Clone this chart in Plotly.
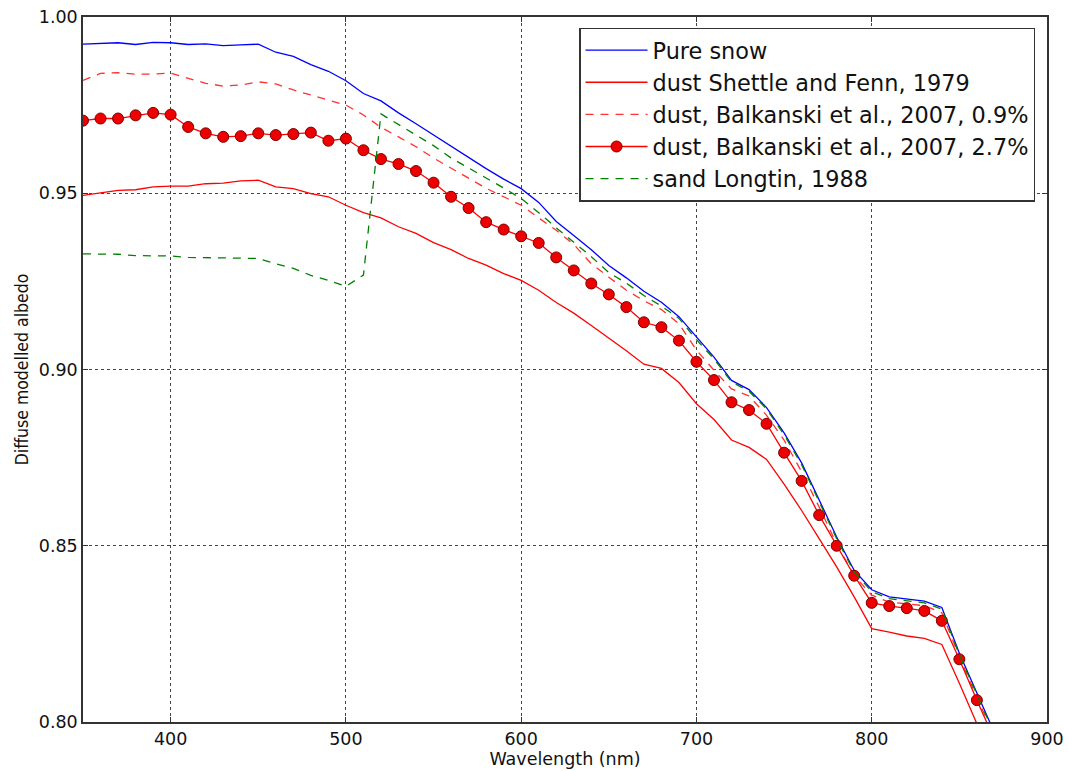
import plotly.graph_objects as go

wavelength = list(range(350, 880, 10))

pure_snow = [0.9923, 0.9925, 0.9927, 0.9922, 0.9928, 0.9927, 0.9922, 0.9924, 0.9919, 0.9921,
             0.9923, 0.9900, 0.9888, 0.9865, 0.9846, 0.9819, 0.9783, 0.9762, 0.9728, 0.9697,
             0.9665, 0.9633, 0.9600, 0.9570, 0.9540, 0.9513, 0.9474, 0.9420, 0.9380, 0.9340,
             0.9295, 0.9260, 0.9222, 0.9191, 0.9150, 0.9092, 0.9035, 0.8969, 0.8943, 0.8892,
             0.8820, 0.8735, 0.8628, 0.8525, 0.8430, 0.8375, 0.8355, 0.8350, 0.8343, 0.8325,
             0.8195, 0.8082, 0.7970]

dust_shettle = [0.9494, 0.9501, 0.9508, 0.9510, 0.9518, 0.9520, 0.9520, 0.9527, 0.9529, 0.9535,
                0.9537, 0.9518, 0.9513, 0.9499, 0.9490, 0.9466, 0.9445, 0.9430, 0.9405, 0.9386,
                0.9360, 0.9340, 0.9315, 0.9296, 0.9272, 0.9253, 0.9225, 0.9190, 0.9160, 0.9125,
                0.9090, 0.9053, 0.9015, 0.9003, 0.8963, 0.8903, 0.8858, 0.8800, 0.8779, 0.8745,
                0.8675, 0.8600, 0.8520, 0.8440, 0.8355, 0.8265, 0.8255, 0.8244, 0.8237, 0.8220,
                0.8110, 0.7995, 0.7890]

dust_balk_09 = [0.9820, 0.9840, 0.9842, 0.9838, 0.9838, 0.9841, 0.9826, 0.9812, 0.9804, 0.9807,
                0.9816, 0.9810, 0.9793, 0.9778, 0.9764, 0.9750, 0.9722, 0.9687, 0.9660, 0.9632,
                0.9600, 0.9572, 0.9543, 0.9514, 0.9490, 0.9466, 0.9430, 0.9395, 0.9355, 0.9300,
                0.9262, 0.9225, 0.9195, 0.9170, 0.9130, 0.9055, 0.8998, 0.8945, 0.8925, 0.8870,
                0.8800, 0.8710, 0.8610, 0.8505, 0.8415, 0.8360, 0.8340, 0.8335, 0.8330, 0.8310,
                0.8185, 0.8070, 0.7960]

dust_balk_27 = [0.9706, 0.9712, 0.9712, 0.9721, 0.9728, 0.9723, 0.9688, 0.9670, 0.9660, 0.9662,
                0.9670, 0.9665, 0.9668, 0.9672, 0.9649, 0.9655, 0.9622, 0.9597, 0.9583, 0.9563,
                0.9530, 0.9490, 0.9458, 0.9418, 0.9397, 0.9378, 0.9359, 0.9318, 0.9281, 0.9244,
                0.9213, 0.9177, 0.9134, 0.9120, 0.9082, 0.9022, 0.8970, 0.8907, 0.8885, 0.8846,
                0.8764, 0.8684, 0.8587, 0.8500, 0.8415, 0.8338, 0.8329, 0.8323, 0.8315, 0.8287,
                0.8178, 0.8062, 0.7950]

sand_longtin = [0.9328, 0.9328, 0.9327, 0.9323, 0.9322, 0.9322, 0.9318, 0.9317, 0.9315, 0.9314,
                0.9315, 0.9300, 0.9287, 0.9267, 0.9253, 0.9236, 0.9268, 0.9725, 0.9695, 0.9665,
                0.9635, 0.9600, 0.9572, 0.9543, 0.9515, 0.9485, 0.9445, 0.9402, 0.9362, 0.9320,
                0.9275, 0.9245, 0.9210, 0.9180, 0.9145, 0.9085, 0.9030, 0.8965, 0.8938, 0.8888,
                0.8815, 0.8730, 0.8625, 0.8520, 0.8425, 0.8370, 0.8350, 0.8345, 0.8338, 0.8320,
                0.8190, 0.8078, 0.7965]

x_ticks = [400, 500, 600, 700, 800, 900]
y_ticks = [0.80, 0.85, 0.90, 0.95, 1.00]

fig = go.Figure()
fig.add_trace(go.Scatter(x=wavelength, y=pure_snow, mode="lines", name="Pure snow",
                         line=dict(color="#0000ff", width=1.3)))
fig.add_trace(go.Scatter(x=wavelength, y=dust_shettle, mode="lines", name="dust Shettle and Fenn, 1979",
                         line=dict(color="#ff0000", width=1.3)))
fig.add_trace(go.Scatter(x=wavelength, y=dust_balk_09, mode="lines", name="dust, Balkanski et al., 2007, 0.9%",
                         line=dict(color="#ff3030", width=1.3, dash="8px,7px")))
fig.add_trace(go.Scatter(x=wavelength, y=dust_balk_27, mode="lines+markers",
                         name="dust, Balkanski et al., 2007, 2.7%",
                         line=dict(color="#ff0000", width=1.3),
                         marker=dict(color="#ee0000", size=11, line=dict(color="#7a0000", width=1))))
fig.add_trace(go.Scatter(x=wavelength, y=sand_longtin, mode="lines", name="sand Longtin, 1988",
                         line=dict(color="#008000", width=1.3, dash="8px,7px")))

axis_common = dict(showline=True, linecolor="#333333", linewidth=1.5, mirror="allticks",
                   ticks="inside", ticklen=5, tickcolor="#333333", automargin=False,
                   showgrid=True, gridcolor="#444444", gridwidth=1, griddash="dot",
                   zeroline=False, tickfont=dict(family="DejaVu Sans", size=17.5, color="#111111"))

fig.update_xaxes(range=[350, 900], tickvals=x_ticks, ticktext=[str(v) for v in x_ticks],
                 title=dict(text="Wavelength (nm)", font=dict(family="DejaVu Sans", size=17.5, color="#111111"),
                            standoff=2),
                 **axis_common)
fig.update_yaxes(range=[0.80, 1.00], tickvals=y_ticks, ticktext=["%.2f" % v for v in y_ticks],
                 title=dict(text="Diffuse modelled albedo",
                            font=dict(family="DejaVu Sans Condensed, DejaVu Sans", size=17.5, color="#111111"),
                            standoff=6),
                 **axis_common)

fig.update_layout(
    width=1068, height=771,
    margin=dict(l=83, r=21, t=17, b=49),
    plot_bgcolor="white", paper_bgcolor="white",
    font=dict(family="DejaVu Sans", color="#111111"),
    legend=dict(x=0.9876, y=0.985, xanchor="right", yanchor="top",
                bgcolor="white", bordercolor="#333333", borderwidth=1.5,
                font=dict(family="DejaVu Sans", size=22.4, color="#111111"),
                tracegroupgap=0, itemwidth=62),
    showlegend=True,
)

fig.write_html("out.html")
